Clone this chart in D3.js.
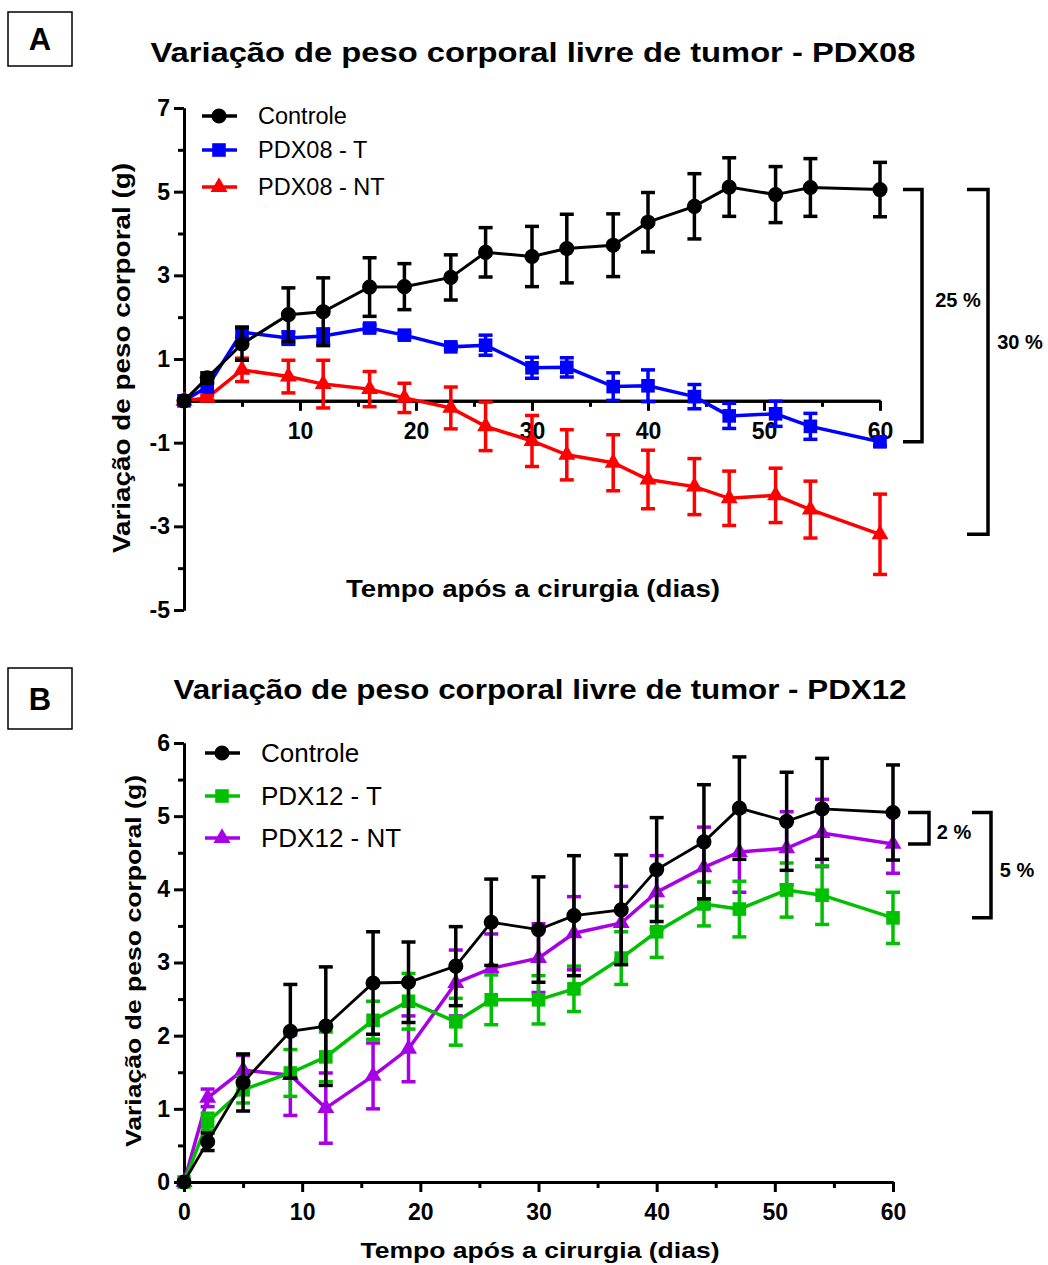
<!DOCTYPE html>
<html>
<head>
<meta charset="utf-8">
<script src="https://cdn.jsdelivr.net/npm/d3@7"></script>
<style>
  body { margin: 0; background: #fff; }
  svg { display: block; font-family: "Liberation Sans", Arial, sans-serif; }
</style>
</head>
<body>
<div id="chart"></div>
<script>
// days after surgery (shared by both panels)
const days = [0, 2, 5, 9, 12, 16, 19, 23, 26, 30, 33, 37, 40, 44, 47, 51, 54, 60]

// Controle (same group in A and B)
const ctrlMean = [0, 0.55, 1.36, 2.06, 2.13, 2.72, 2.73, 2.95, 3.55, 3.45, 3.64, 3.72, 4.27, 4.65, 5.11, 4.93, 5.10, 5.05]
const ctrlSem  = [0, 0.12, 0.39, 0.64, 0.81, 0.70, 0.55, 0.54, 0.59, 0.72, 0.82, 0.75, 0.71, 0.78, 0.70, 0.67, 0.69, 0.65]

// panel A
const pdx08TMean  = [0, 0.33, 1.64, 1.50, 1.55, 1.74, 1.57, 1.29, 1.33, 0.79, 0.80, 0.34, 0.36, 0.10, -0.36, -0.31, -0.61, -0.98]
const pdx08TSem   = [0, 0.10, 0.12, 0.15, 0.17, 0.07, 0.06, 0.06, 0.24, 0.25, 0.23, 0.33, 0.38, 0.29, 0.30, 0.30, 0.31, 0.10]
const pdx08NTMean = [0, 0.07, 0.74, 0.58, 0.40, 0.28, 0.07, -0.17, -0.61, -0.96, -1.29, -1.48, -1.88, -2.05, -2.33, -2.26, -2.60, -3.19]
const pdx08NTSem  = [0, 0.05, 0.28, 0.39, 0.57, 0.42, 0.35, 0.50, 0.58, 0.61, 0.60, 0.67, 0.70, 0.67, 0.65, 0.65, 0.68, 0.96]

// panel B
const pdx12TMean  = [0, 0.82, 1.26, 1.49, 1.71, 2.21, 2.47, 2.19, 2.49, 2.49, 2.64, 3.06, 3.42, 3.80, 3.73, 3.99, 3.92, 3.61]
const pdx12TSem   = [0, 0.12, 0.18, 0.32, 0.34, 0.26, 0.38, 0.32, 0.34, 0.33, 0.31, 0.36, 0.35, 0.30, 0.38, 0.37, 0.40, 0.35]
const pdx12NTMean = [0, 1.15, 1.53, 1.46, 1.01, 1.45, 1.82, 2.72, 2.92, 3.06, 3.40, 3.54, 3.96, 4.30, 4.51, 4.56, 4.77, 4.62]
const pdx12NTSem  = [0, 0.12, 0.20, 0.55, 0.48, 0.45, 0.45, 0.45, 0.47, 0.47, 0.50, 0.50, 0.50, 0.55, 0.55, 0.50, 0.46, 0.40]

// ticks
const aYMajor = [7, 5, 3, 1, -1, -3, -5]
const aYMinor = [6, 4, 2, 0, -2, -4]
const aXMajor = [10, 20, 30, 40, 50, 60]
const bYMajor = [0, 1, 2, 3, 4, 5, 6]
const bYMinor = [0.5, 1.5, 2.5, 3.5, 4.5, 5.5]
const bXMajor = [0, 10, 20, 30, 40, 50, 60]
const xMinor = [5, 15, 25, 35, 45, 55]

const svg = d3.select('#chart').append('svg')
    .attr('width', 1048).attr('height', 1265)

function series(name, mean, sem, color, shape) {
    return {name, color, shape, data: days.map((d, i) => ({x: d, y: mean[i], e: sem[i]}))}
}

const fmt = d => String(d) // plain hyphen minus, like the original

function drawAxes(g, x, y, yMajor, yMinor, xMajor, xAxisAt) {
    const yAx = g.append('g').attr('transform', 'translate(' + x.range()[0] + ',0)')
    yAx.call(d3.axisLeft(y).tickValues(yMinor).tickSize(6).tickSizeOuter(0).tickFormat(''))
    yAx.append('g').call(d3.axisLeft(y).tickValues(yMajor).tickSize(10).tickSizeOuter(0).tickPadding(4).tickFormat(fmt))

    const xAx = g.append('g').attr('transform', 'translate(0,' + y(xAxisAt) + ')')
    xAx.call(d3.axisBottom(x).tickValues(xMinor).tickSize(6).tickSizeOuter(0).tickFormat(''))
    xAx.append('g').call(d3.axisBottom(x).tickValues(xMajor).tickSize(10).tickSizeOuter(0).tickPadding(12).tickFormat(fmt))

    g.selectAll('.domain, .tick line').attr('stroke', '#000').attr('stroke-width', 3)
    g.selectAll('.tick text').attr('font-size', 23).attr('font-weight', 'bold').attr('fill', '#000')
        .attr('font-family', '"Liberation Sans", Arial, sans-serif')
}

function marker(sel, shape, color) {
    if (shape === 'circle') {
        sel.append('path').attr('d', d3.symbol(d3.symbolCircle, 180)).attr('fill', color)
    } else if (shape === 'square') {
        sel.append('path').attr('d', d3.symbol(d3.symbolSquare, 185)).attr('fill', color)
    } else {
        sel.append('path').attr('d', d3.symbol(d3.symbolTriangle, 125)).attr('fill', color)
    }
}

function drawSeries(g, x, y, s, lineW) {
    const grp = g.append('g')
    const bars = grp.selectAll('.eb').data(s.data.filter(d => d.e > 0)).enter().append('g')
    bars.append('line')
        .attr('x1', d => x(d.x)).attr('x2', d => x(d.x))
        .attr('y1', d => y(d.y - d.e)).attr('y2', d => y(d.y + d.e))
        .attr('stroke', s.color).attr('stroke-width', 3.5)
    bars.selectAll('.cap').data(d => [d.y - d.e, d.y + d.e].map(v => ({x: d.x, v}))).enter()
        .append('line')
        .attr('x1', d => x(d.x) - 7).attr('x2', d => x(d.x) + 7)
        .attr('y1', d => y(d.v)).attr('y2', d => y(d.v))
        .attr('stroke', s.color).attr('stroke-width', 3.5)

    grp.append('path').datum(s.data)
        .attr('d', d3.line().x(d => x(d.x)).y(d => y(d.y)))
        .attr('fill', 'none').attr('stroke', s.color).attr('stroke-width', lineW)

    grp.selectAll('.pt').data(s.data).enter().append('g')
        .attr('transform', d => 'translate(' + x(d.x) + ',' + y(d.y) + ')')
        .call(sel => marker(sel, s.shape, s.color))
}

function drawLegend(g, list, x0, ys, fontSize) {
    list.forEach((s, i) => {
        const row = g.append('g').attr('transform', 'translate(' + x0 + ',' + ys[i] + ')')
        row.append('line').attr('x1', 0).attr('x2', 35).attr('stroke', s.color).attr('stroke-width', 3.5)
        marker(row.append('g').attr('transform', 'translate(17,0)'), s.shape, s.color)
        row.append('text').attr('x', 56).attr('dy', '0.35em')
            .attr('font-size', fontSize).text(s.name)
    })
}

function bracket(g, x0, x1, yTop, yBot) {
    g.append('path')
        .attr('d', 'M' + x0 + ',' + yTop + 'H' + x1 + 'V' + yBot + 'H' + x0)
        .attr('fill', 'none').attr('stroke', '#000').attr('stroke-width', 3.5)
}

function panelLabel(g, letter, x, y, w, h) {
    g.append('rect').attr('x', x).attr('y', y).attr('width', w).attr('height', h)
        .attr('fill', 'none').attr('stroke', '#000').attr('stroke-width', 1.5)
    g.append('text').attr('x', x + w / 2).attr('y', y + h / 2).attr('dy', '0.36em')
        .attr('text-anchor', 'middle').attr('font-size', 31).attr('font-weight', 'bold').text(letter)
}

// the original bold face is a bit wider than Liberation, so stretch to the measured widths
function titles(g, t, pos) {
    g.append('text').attr('x', pos.tx).attr('y', pos.ty).attr('text-anchor', 'middle').attr('dy', '0.35em')
        .attr('font-size', pos.tSize).attr('font-weight', 'bold')
        .attr('textLength', pos.tLen).attr('lengthAdjust', 'spacingAndGlyphs').text(t)
    g.append('text').attr('transform', 'translate(' + pos.yx + ',' + pos.yy + ') rotate(-90)')
        .attr('text-anchor', 'middle').attr('dy', '0.35em')
        .attr('font-size', pos.aSize).attr('font-weight', 'bold')
        .attr('textLength', pos.yLen).attr('lengthAdjust', 'spacingAndGlyphs')
        .text('Variação de peso corporal (g)')
    g.append('text').attr('x', pos.xx).attr('y', pos.xy).attr('text-anchor', 'middle').attr('dy', '0.35em')
        .attr('font-size', pos.aSize).attr('font-weight', 'bold')
        .attr('textLength', pos.xLen).attr('lengthAdjust', 'spacingAndGlyphs')
        .text('Tempo após a cirurgia (dias)')
}

// ---------- panel A ----------
const gA = svg.append('g')
const xA = d3.scaleLinear().domain([0, 60]).range([184, 880])
const yA = d3.scaleLinear().domain([-5, 7]).range([610, 108])

panelLabel(gA, 'A', 8, 12, 64, 54)
titles(gA, 'Variação de peso corporal livre de tumor - PDX08',
    {tx: 533, ty: 52, tSize: 28, tLen: 765, yx: 122, yy: 358, yLen: 390, xx: 533, xy: 589, xLen: 374, aSize: 23})
drawAxes(gA, xA, yA, aYMajor, aYMinor, aXMajor, 0)

const ctrlA = series('Controle', ctrlMean, ctrlSem, '#000000', 'circle')
const tA = series('PDX08 - T', pdx08TMean, pdx08TSem, '#0000ff', 'square')
const ntA = series('PDX08 - NT', pdx08NTMean, pdx08NTSem, '#ff0000', 'triangle')
drawSeries(gA, xA, yA, ntA, 3.5)
drawSeries(gA, xA, yA, tA, 3.5)
drawSeries(gA, xA, yA, ctrlA, 3)
drawLegend(gA, [ctrlA, tA, ntA], 202, [116, 150, 187], 23.5)

const lastA = days.length - 1
bracket(gA, 903, 922, yA(ctrlMean[lastA]), yA(pdx08TMean[lastA]))
bracket(gA, 967, 988, yA(ctrlMean[lastA]), yA(pdx08NTMean[lastA]))
gA.append('text').attr('x', 958).attr('y', 300).attr('dy', '0.35em').attr('text-anchor', 'middle')
    .attr('font-size', 20).attr('font-weight', 'bold').text('25 %')
gA.append('text').attr('x', 1020).attr('y', 342).attr('dy', '0.35em').attr('text-anchor', 'middle')
    .attr('font-size', 20).attr('font-weight', 'bold').text('30 %')

// ---------- panel B ----------
const gB = svg.append('g')
const xB = d3.scaleLinear().domain([0, 60]).range([184, 893])
const yB = d3.scaleLinear().domain([0, 6]).range([1182, 743])

panelLabel(gB, 'B', 8, 668, 64, 61)
titles(gB, 'Variação de peso corporal livre de tumor - PDX12',
    {tx: 540, ty: 690, tSize: 27, tLen: 733, yx: 133, yy: 961, yLen: 372, xx: 540, xy: 1250, xLen: 359, aSize: 22})
drawAxes(gB, xB, yB, bYMajor, bYMinor, bXMajor, 0)

const ctrlB = series('Controle', ctrlMean, ctrlSem, '#000000', 'circle')
const tB = series('PDX12 - T', pdx12TMean, pdx12TSem, '#00c000', 'square')
const ntB = series('PDX12 - NT', pdx12NTMean, pdx12NTSem, '#a800e6', 'triangle')
drawSeries(gB, xB, yB, ntB, 3.5)
drawSeries(gB, xB, yB, tB, 3.5)
drawSeries(gB, xB, yB, ctrlB, 2.8)
drawLegend(gB, [ctrlB, tB, ntB], 205, [753, 796, 838], 26)

bracket(gB, 908, 929, yB(ctrlMean[lastA]), yB(pdx12NTMean[lastA]))
bracket(gB, 972, 991, yB(ctrlMean[lastA]), yB(pdx12TMean[lastA]))
gB.append('text').attr('x', 954).attr('y', 832).attr('dy', '0.35em').attr('text-anchor', 'middle')
    .attr('font-size', 20).attr('font-weight', 'bold').text('2 %')
gB.append('text').attr('x', 1017).attr('y', 870).attr('dy', '0.35em').attr('text-anchor', 'middle')
    .attr('font-size', 20).attr('font-weight', 'bold').text('5 %')
</script>
</body>
</html>
